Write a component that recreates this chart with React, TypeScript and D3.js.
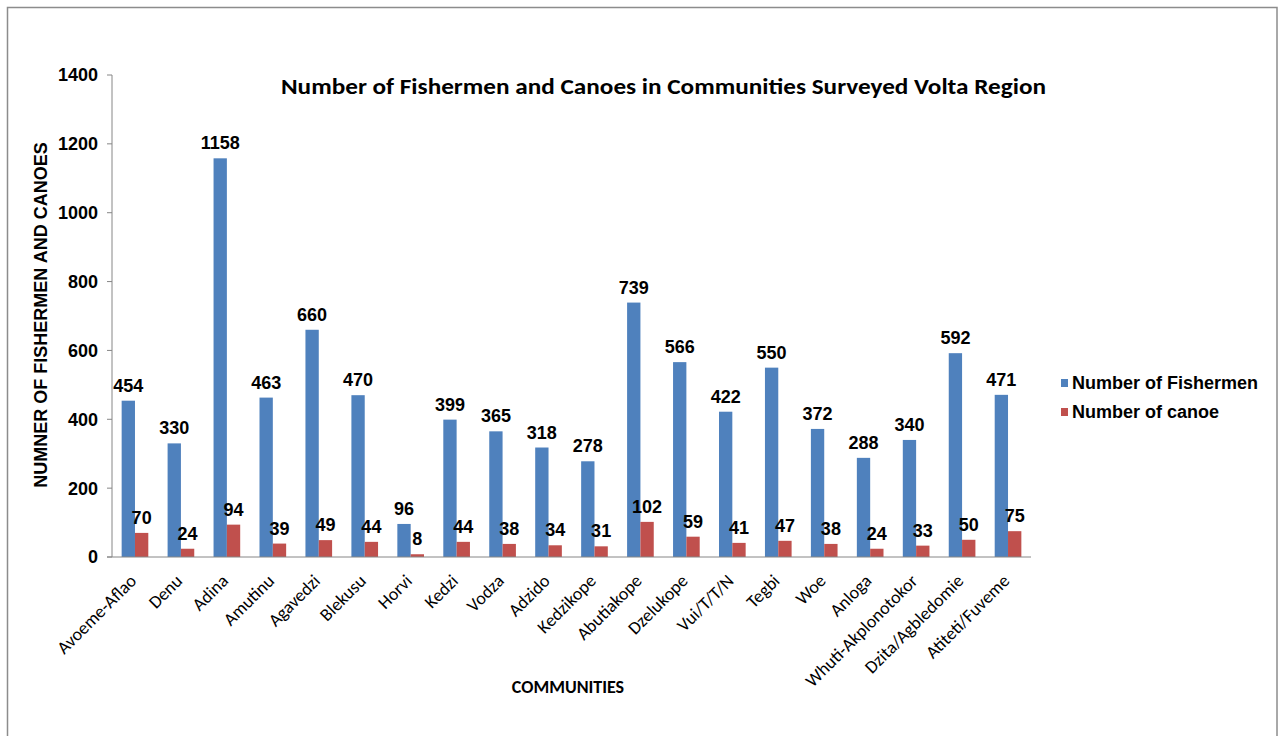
import React from 'react';
import * as d3 from 'd3';

const communities = [
  'Avoeme-Aflao', 'Denu', 'Adina', 'Amutinu', 'Agavedzi', 'Blekusu', 'Horvi',
  'Kedzi', 'Vodza', 'Adzido', 'Kedzikope', 'Abutiakope', 'Dzelukope', 'Vui/T/T/N',
  'Tegbi', 'Woe', 'Anloga', 'Whuti-Akplonotokor', 'Dzita/Agbledomie', 'Atiteti/Fuveme'
];
const fishermen = [454, 330, 1158, 463, 660, 470, 96, 399, 365, 318, 278, 739, 566, 422, 550, 372, 288, 340, 592, 471];
const canoes = [70, 24, 94, 39, 49, 44, 8, 44, 38, 34, 31, 102, 59, 41, 47, 38, 24, 33, 50, 75];
const yTicks = [0, 200, 400, 600, 800, 1000, 1200, 1400];
const seriesNames = ['Number of Fishermen', 'Number of canoe'];
const seriesColors = ['#4F81BD', '#C0504D'];

const W = 1279;
const H = 736;
const left = 112;
const right = 1031;
const top = 75;
const bottom = 557;

const ARIAL = "'Liberation Sans', Arial, sans-serif";
const CALIBRI = "Carlito, Calibri, Lato, sans-serif";

export default function App() {
  const x = d3.scaleBand<string>().domain(communities).range([left, right])
    .paddingInner(0.42).paddingOuter(0.21);
  const sub = d3.scaleBand<number>().domain([0, 1]).range([0, x.bandwidth()]);
  const y = d3.scaleLinear().domain([0, 1400]).range([bottom, top]);
  const series = [fishermen, canoes];

  return (
    <svg width={W} height={H} style={{ position: 'fixed', left: 0, top: 0, background: '#fff' }}>
      <rect x={7.5} y={7.5} width={1269.5} height={800} fill="#fff" stroke="#8c8c8c" strokeWidth={1.5} />

      <text x={663.5} y={94} textAnchor="middle" fontFamily={CALIBRI} fontWeight="bold" fontSize={22}
        textLength={765} lengthAdjust="spacingAndGlyphs" fill="#000">
        Number of Fishermen and Canoes in Communities Surveyed Volta Region
      </text>

      {/* y axis */}
      <line x1={left} x2={left} y1={top} y2={bottom} stroke="#868686" />
      {yTicks.map(t => (
        <g key={t}>
          <line x1={left - 5} x2={left} y1={y(t)} y2={y(t)} stroke="#868686" />
          <text x={98} y={y(t)} dy="0.36em" textAnchor="end" fontFamily={ARIAL} fontWeight="bold" fontSize={18}>{t}</text>
        </g>
      ))}
      <text transform={`translate(47,315) rotate(-90)`} textAnchor="middle" fontFamily={ARIAL}
        fontWeight="bold" fontSize={18}>NUMNER OF FISHERMEN AND CANOES</text>

      {/* bars */}
      {communities.map((c, i) => (
        <g key={c} transform={`translate(${x(c)},0)`}>
          {series.map((s, k) => (
            <g key={k}>
              <rect x={sub(k)} y={y(s[i])} width={sub.bandwidth()} height={bottom - y(s[i])} fill={seriesColors[k]} />
              <text x={(sub(k) ?? 0) + sub.bandwidth() / 2} y={y(s[i]) - 9} textAnchor="middle"
                fontFamily={ARIAL} fontWeight="bold" fontSize={18}>{s[i]}</text>
            </g>
          ))}
        </g>
      ))}

      {/* x axis */}
      <line x1={left - 5} x2={right} y1={bottom} y2={bottom} stroke="#868686" />
      {communities.map(c => {
        const cx = (x(c) ?? 0) + x.bandwidth() / 2 + 2.5;
        return (
          <text key={c} transform={`translate(${cx},${bottom + 25}) rotate(-45)`} textAnchor="end"
            fontFamily={CALIBRI} fontSize={18}>{c}</text>
        );
      })}
      <text x={568} y={693} textAnchor="middle" fontFamily={CALIBRI} fontWeight="bold" fontSize={18}>COMMUNITIES</text>

      {/* legend */}
      {seriesNames.map((n, k) => (
        <g key={n} transform={`translate(1061,${383 + k * 29})`}>
          <rect x={0} y={-4} width={7} height={8} fill={seriesColors[k]} />
          <text x={11} y={0} dy="0.36em" fontFamily={ARIAL} fontWeight="bold" fontSize={18}>{n}</text>
        </g>
      ))}
    </svg>
  );
}
